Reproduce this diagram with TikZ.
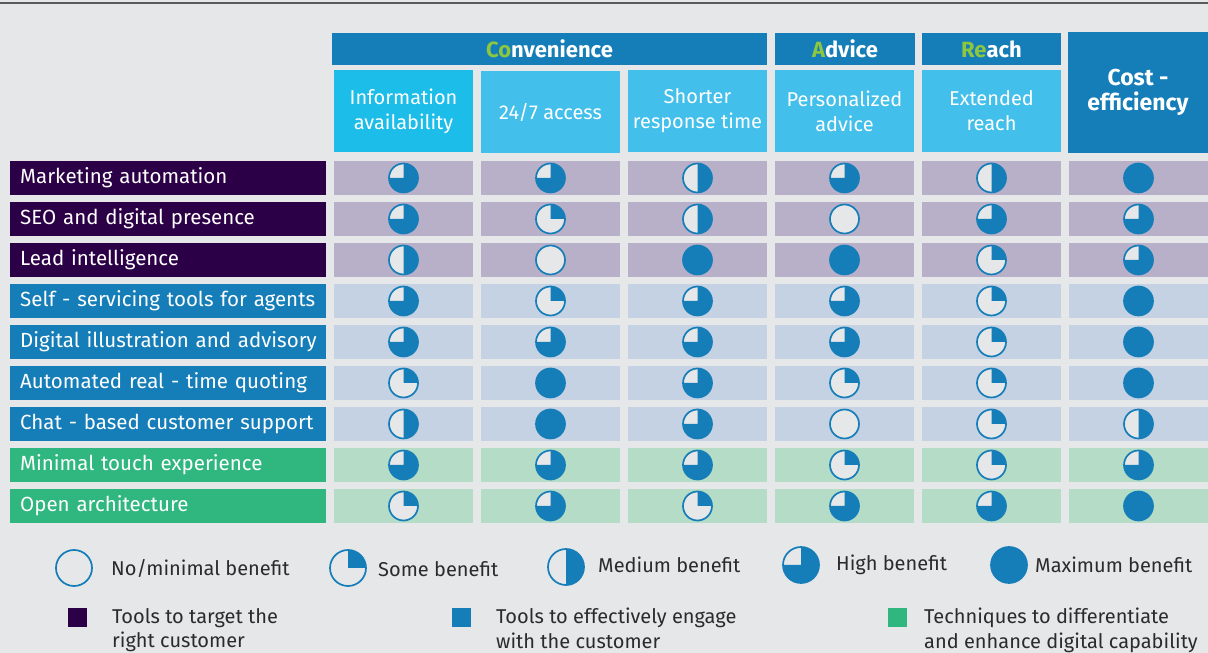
\documentclass[tikz,border=0pt]{standalone}
\usepackage{fontspec}
\setmainfont{Fira Sans}
\usetikzlibrary{positioning}

\definecolor{pagebg}{HTML}{E6E7E9}
\definecolor{toolpurple}{HTML}{2C0046}
\definecolor{toolblue}{HTML}{157DB8}
\definecolor{toolgreen}{HTML}{30B67F}
\definecolor{cellpurple}{HTML}{B8B0C9}
\definecolor{cellblue}{HTML}{C4D2E3}
\definecolor{cellgreen}{HTML}{B4DCC7}
\definecolor{headblue}{HTML}{157EB8}
\definecolor{subcyan}{HTML}{1CBDE9}
\definecolor{sublight}{HTML}{42BFEA}
\definecolor{initgreen}{HTML}{8DC63F}
\definecolor{ruleline}{HTML}{5A5A5A}
\definecolor{legendtext}{HTML}{2B2B2B}

\tikzset{
  rowlabel/.style={anchor=west, text=white, font=\fontsize{20.5}{24}\selectfont,
    minimum height=34pt, text width=296pt, inner xsep=10pt, inner ysep=0pt, align=left},
  cellbox/.style={minimum width=139pt, minimum height=34pt, inner sep=0pt},
  grouphead/.style={fill=headblue, text=white, font=\fontsize{22}{24}\selectfont\bfseries,
    minimum height=32pt, inner sep=0pt},
  subhead/.style={fill=sublight, text=white, font=\fontsize{20}{25}\selectfont,
    minimum width=139pt, minimum height=82pt, inner sep=0pt, align=center},
  legtext/.style={anchor=west, inner sep=0pt, text=legendtext, font=\fontsize{20}{24}\selectfont},
  keytext/.style={anchor=north west, inner sep=0pt, text=legendtext, align=left,
    font=\fontsize{20}{24.5}\selectfont},
  keybox/.style={minimum size=19pt, inner sep=0pt},
  pics/hball/.style n args={2}{code={
    \fill[pagebg] (0,0) circle (#2);
    \ifcase#1
    \or \fill[toolblue] (0,0) -- (90:#2) arc (90:0:#2) -- cycle;
    \or \fill[toolblue] (0,0) -- (90:#2) arc (90:-90:#2) -- cycle;
    \or \fill[toolblue] (0,0) -- (90:#2) arc (90:-180:#2) -- cycle;
    \or \fill[toolblue] (0,0) circle (#2);
    \fi
    \draw[toolblue, line width=1.7pt] (0,0) circle (#2);
  }},
}

\begin{document}
\begin{tikzpicture}[x=1pt,y=1pt]
\useasboundingbox (0,0) rectangle (1208,653);
\fill[pagebg] (0,0) rectangle (1208,653);
\draw[ruleline, line width=1.5pt] (0,650) -- (1208,650);

% column heads
\node[grouphead, minimum width=435pt] (hConv) at (549.5,604) {\textcolor{initgreen}{Co}nvenience};
\node[grouphead, minimum width=140pt] (hAdv) at (845,604) {\textcolor{initgreen}{A}dvice};
\node[grouphead, minimum width=139pt] (hReach) at (991.5,604) {\textcolor{initgreen}{Re}ach};
\node[grouphead, minimum width=140pt, minimum height=121pt, align=center,
  font=\fontsize{23}{25}\selectfont\bfseries] (hCost) at (1138,560.5) {Cost -\\efficiency};

\node[subhead, fill=subcyan] (sub1) at (403.5,542) {Information\\availability};
\node[subhead] (sub2) at (550.5,541) {24/7 access};
\node[subhead] (sub3) at (697.5,542) {Shorter\\response time};
\node[subhead] (sub4) at (844.5,542) {Personalized\\advice};
\node[subhead] (sub5) at (991.5,542) {Extended\\reach};

% rows: label / colours / six scores
\foreach \lab/\fillc/\cellc/\va/\vb/\vc/\vd/\ve/\vf [count=\i] in {
  Marketing automation/toolpurple/cellpurple/3/3/2/3/2/4,
  SEO and digital presence/toolpurple/cellpurple/3/1/2/0/3/3,
  Lead intelligence/toolpurple/cellpurple/2/0/4/4/1/3,
  Self - servicing tools for agents/toolblue/cellblue/3/1/3/3/1/4,
  Digital illustration and advisory/toolblue/cellblue/3/3/3/3/1/4,
  Automated real - time quoting/toolblue/cellblue/1/4/3/1/1/4,
  Chat - based customer support/toolblue/cellblue/2/4/3/0/1/2,
  Minimal touch experience/toolgreen/cellgreen/3/3/3/1/1/3,
  Open architecture/toolgreen/cellgreen/1/3/1/3/3/4}{
  \pgfmathsetmacro\ry{516-41*\i}
  \node[rowlabel, fill=\fillc] (lab\i) at (10,\ry) {\mbox{\lab}};
  \foreach \v [count=\j] in {\va,\vb,\vc,\vd,\ve,\vf}{
    \pgfmathsetmacro\cx{403.5+147*(\j-1)}
    \node[cellbox, fill=\cellc] (c\i-\j) at (\cx,\ry) {};
    \pic at (c\i-\j) {hball={\v}{14.5pt}};
  }
}

% legend
\pic at (74,85) {hball={0}{18pt}};
\node[legtext] (key0) at (111,85) {No/minimal benefit};
\pic at (348,85) {hball={1}{18pt}};
\node[legtext] (key1) at (378,84) {Some benefit};
\pic at (566,86) {hball={2}{18pt}};
\node[legtext] (key2) at (598,88) {Medium benefit};
\pic at (801,88) {hball={3}{18pt}};
\node[legtext] (key3) at (836,88) {High benefit};
\pic at (1009,88) {hball={4}{18pt}};
\node[legtext] (key4) at (1035,88) {Maximum benefit};

\node[keybox, fill=toolpurple] (sq1) at (77.5,35.5) {};
\node[keytext] (grp1) at (112,45) {Tools to target the\\right customer};
\node[keybox, fill=toolblue] (sq2) at (461,35.5) {};
\node[keytext] (grp2) at (496,45) {Tools to effectively engage\\with the customer};
\node[keybox, fill=toolgreen] (sq3) at (897.5,35.5) {};
\node[keytext] (grp3) at (924,45) {Techniques to differentiate\\and enhance digital capability};
\end{tikzpicture}
\end{document}
